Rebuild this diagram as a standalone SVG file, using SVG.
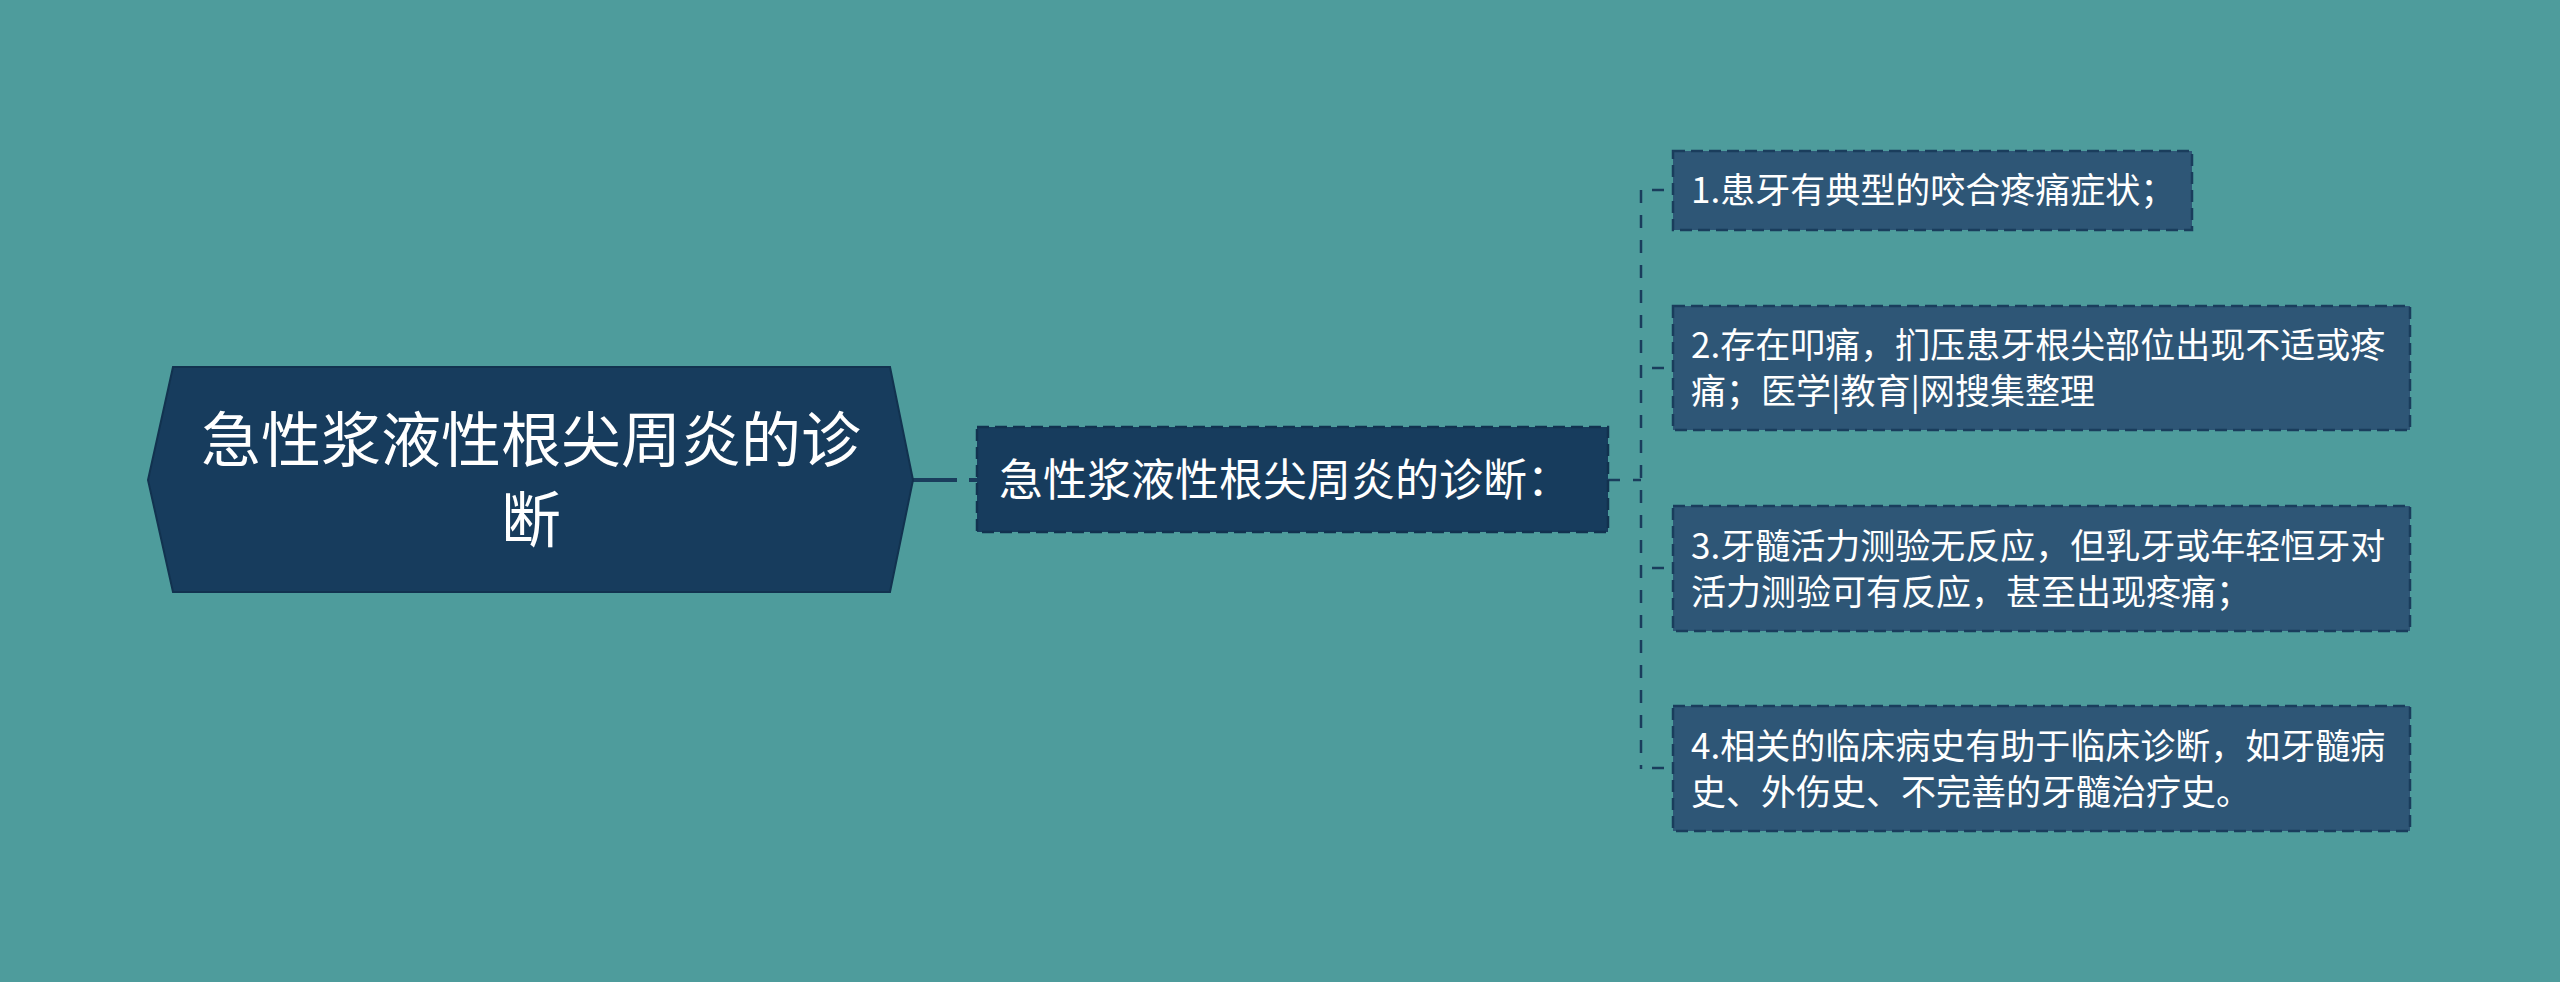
<svg xmlns="http://www.w3.org/2000/svg" width="2560" height="982" viewBox="0 0 2560 982">
<style>
.bg{fill:#4E9C9C}
.main{fill:#173C5D;stroke:#12324F;stroke-width:2}
.mid{fill:#173C5D;stroke:#12324F;stroke-width:2.5;stroke-dasharray:12 6}
.leaf{fill:#2E5676;stroke:#1A3D5C;stroke-width:2.5;stroke-dasharray:12 6}
.t{font-family:"Noto Sans CJK SC","Noto Sans",sans-serif;fill:#FFFFFF}
.tm{font-size:60px;text-anchor:middle}
.tb{font-size:44px}
.tl{font-size:35px}
.c{stroke:#1A3D5C;fill:none}
</style>
<rect class="bg" x="0" y="0" width="2560" height="982"/>
<g id="connectors">
  <line class="c" x1="913" y1="480" x2="957" y2="480" stroke-width="4"/>
  <line class="c" x1="969" y1="480" x2="977" y2="480" stroke-width="4"/>
  <line class="c" x1="1608" y1="480" x2="1620" y2="480" stroke-width="2.5"/>
  <line class="c" x1="1633" y1="480" x2="1641" y2="480" stroke-width="2.5"/>
  <line class="c" x1="1641" y1="190" x2="1641" y2="769" stroke-width="2.5" stroke-dasharray="13 12"/>
  <line class="c" x1="1652" y1="190" x2="1664" y2="190" stroke-width="2.5"/>
  <line class="c" x1="1652" y1="368" x2="1664" y2="368" stroke-width="2.5"/>
  <line class="c" x1="1652" y1="568" x2="1664" y2="568" stroke-width="2.5"/>
  <line class="c" x1="1652" y1="768" x2="1664" y2="768" stroke-width="2.5"/>
</g>
<g id="root">
  <polygon class="main" points="148,480 173,367 890,367 913,480 890,592 173,592"/>
  <text class="t tm" x="531" y="462">急性浆液性根尖周炎的诊</text>
  <text class="t tm" x="531" y="542">断</text>
</g>
<g id="branch">
  <rect class="mid" x="977" y="427" width="631" height="105"/>
  <text class="t tb" x="999" y="496">急性浆液性根尖周炎的诊断：</text>
</g>
<g id="leaf1">
  <rect class="leaf" x="1673" y="151" width="519" height="79"/>
  <text class="t tl" x="1691" y="203">1.患牙有典型的咬合疼痛症状；</text>
</g>
<g id="leaf2">
  <rect class="leaf" x="1673" y="306" width="737" height="124"/>
  <text class="t tl" x="1691" y="358">2.存在叩痛，扪压患牙根尖部位出现不适或疼</text>
  <text class="t tl" x="1691" y="404">痛；医学|教育|网搜集整理</text>
</g>
<g id="leaf3">
  <rect class="leaf" x="1673" y="506" width="737" height="125"/>
  <text class="t tl" x="1691" y="559">3.牙髓活力测验无反应，但乳牙或年轻恒牙对</text>
  <text class="t tl" x="1691" y="605">活力测验可有反应，甚至出现疼痛；</text>
</g>
<g id="leaf4">
  <rect class="leaf" x="1673" y="706" width="737" height="125"/>
  <text class="t tl" x="1691" y="759">4.相关的临床病史有助于临床诊断，如牙髓病</text>
  <text class="t tl" x="1691" y="805">史、外伤史、不完善的牙髓治疗史。</text>
</g>
</svg>
